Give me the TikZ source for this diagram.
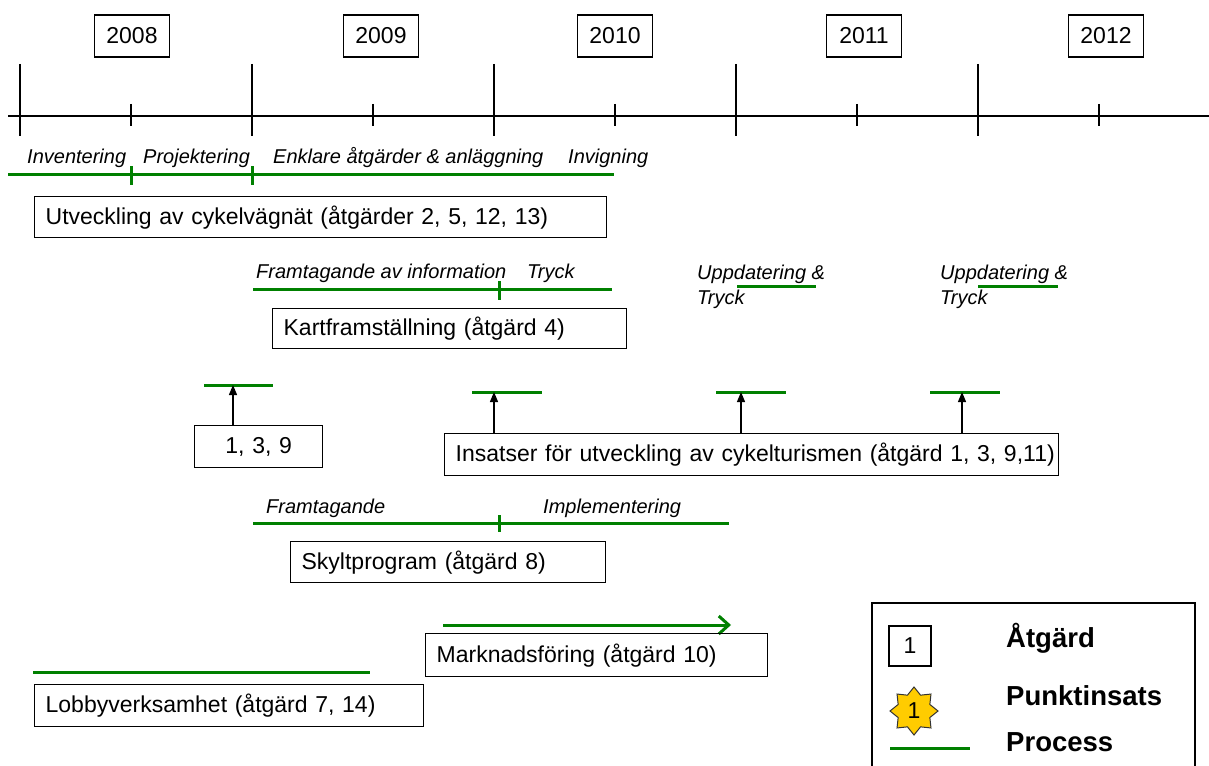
\documentclass[tikz,border=0pt]{standalone}
\usepackage{fontspec}
\setmainfont{Liberation Sans}
\usetikzlibrary{arrows.meta, shapes.geometric, positioning}

\definecolor{procgreen}{RGB}{0,128,0}
\definecolor{stargold}{RGB}{255,204,0}

\begin{document}
\begin{tikzpicture}[%
	x=1pt, y=-1pt,              % pixel-like grid, y going down
	every node/.style={font=\fontsize{23}{27}\selectfont},
	>={Triangle[length=10pt, width=8pt]},
	]
	% -------------------------------------------------
	% Box and line styles
	\tikzset{
		year/.style={draw, line width=1.3pt, minimum width=75pt, minimum height=42pt, inner sep=0pt},
		act/.style={draw, line width=1.3pt, anchor=north west, align=left, inner xsep=11pt, inner ysep=0pt},
		phase/.style={font=\fontsize{20}{25}\selectfont\itshape, anchor=west, inner sep=0pt},
		proc/.style={draw=procgreen, line width=3pt},
		axis/.style={draw, line width=1.5pt},
		pointer/.style={draw, line width=1.3pt, ->},
		legtext/.style={font=\fontsize{27.5}{30}\selectfont\bfseries, anchor=west, inner sep=0pt}
	}
	\useasboundingbox (0,0) rectangle (1209,765);

	% -------------------------------------------------
	% Time axis with years
	\draw[axis] (8,116) -- (1209,116);
	\foreach \x in {20,252,494,736,978}
		\draw[axis] (\x,64) -- (\x,136);
	\foreach \x in {131,373,615,857,1099}
		\draw[axis] (\x,104) -- (\x,126);
	\foreach \x/\yr in {132/2008, 381/2009, 615/2010, 864/2011, 1106/2012}
		\node[year] (y\yr) at (\x,36) {\yr};

	% -------------------------------------------------
	% Cykelvaegnaet
	\node[phase] (ph1) at (27,158) {Inventering};
	\node[phase] (ph2) at (143,158) {Projektering};
	\node[phase] (ph3) at (273,158) {Enklare åtgärder \& anläggning};
	\node[phase] (ph4) at (568,158) {Invigning};
	\draw[proc] (8,174) -- (614,174);
	\draw[proc] (131,166) -- (131,185);
	\draw[proc] (252,166) -- (252,185);
	\node[act, minimum height=41pt, text width=550pt] (utv) at (34,196)
		{Utveckling av cykelvägnät (åtgärder 2, 5, 12, 13)};

	% -------------------------------------------------
	% Kartframstaellning
	\node[phase] (ph5) at (256,273) {Framtagande av information};
	\node[phase] (ph6) at (527,273) {Tryck};
	\draw[proc] (253,289) -- (612,289);
	\draw[proc] (499,281) -- (499,300);
	\node[phase, align=left, anchor=north west] (ph7) at (697,265) {Uppdatering \&\\Tryck};
	\node[phase, align=left, anchor=north west] (ph8) at (940,265) {Uppdatering \&\\Tryck};
	\draw[proc] (737,286) -- (816,286);
	\draw[proc] (978,286) -- (1058,286);
	\node[act, minimum height=40pt, text width=332pt] (kart) at (272,308)
		{Kartframställning (åtgärd 4)};

	% -------------------------------------------------
	% Punktinsatser for cykelturism
	\coordinate (m1) at (233,385);
	\coordinate (m2) at (494,392);
	\coordinate (m3) at (741,392);
	\coordinate (m4) at (962,392);
	\draw[proc] (204,385) -- (273,385);
	\draw[proc] (472,392) -- (542,392);
	\draw[proc] (716,392) -- (786,392);
	\draw[proc] (930,392) -- (1000,392);
	\node[act, minimum height=42pt, text width=106pt, align=center] (a139) at (194,425) {1, 3, 9};
	\node[act, minimum height=42pt, text width=592pt] (ins) at (444,433)
		{\mbox{Insatser för utveckling av cykelturismen (åtgärd 1, 3, 9,11)}};
	\draw[pointer] (a139.north -| m1) -- (m1);
	\foreach \m in {m2,m3,m4}
		\draw[pointer] (ins.north -| \m) -- (\m);

	% -------------------------------------------------
	% Skyltprogram
	\node[phase] (ph9) at (266,508) {Framtagande};
	\node[phase] (ph10) at (543,508) {Implementering};
	\draw[proc] (253,523) -- (729,523);
	\draw[proc] (499,515) -- (499,532);
	\node[act, minimum height=41pt, text width=293pt] (skylt) at (290,541)
		{Skyltprogram (åtgärd 8)};

	% -------------------------------------------------
	% Marknadsfoering and lobbying
	\draw[proc, -{Straight Barb[length=10pt, width=18pt]}] (443,625) -- (731,625);
	\node[act, minimum height=43pt, text width=320pt] (mark) at (425,633)
		{Marknadsföring (åtgärd 10)};
	\draw[proc] (33,672) -- (370,672);
	\node[act, minimum height=42pt, text width=367pt] (lobby) at (34,684)
		{Lobbyverksamhet (åtgärd 7, 14)};

	% -------------------------------------------------
	% Legend
	\draw[line width=1.3pt] (872,775) |- (1195,603) -- (1195,775);
	\node[year, minimum width=42pt, minimum height=40pt] (lgbox) at (910,646) {1};
	\node[legtext] (lg1) at (1006,638) {Åtgärd};
	\node[star, star points=8, star point ratio=1.4, fill=stargold, draw=black!80,
		line width=1pt, minimum size=48pt, inner sep=0pt] (lgstar) at (914,711) {1};
	\node[legtext] (lg2) at (1006,696) {Punktinsats};
	\draw[proc] (890,748) -- (970,748);
	\node[legtext] (lg3) at (1006,742) {Process};
\end{tikzpicture}
\end{document}
